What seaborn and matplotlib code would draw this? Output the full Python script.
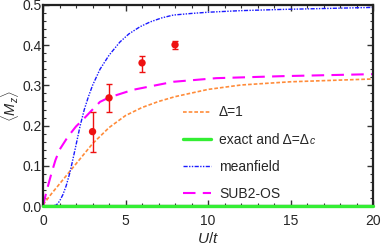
import numpy as np
import pandas as pd
import matplotlib
matplotlib.use("Agg")
import matplotlib.pyplot as plt
import seaborn as sns
from matplotlib.ticker import MultipleLocator

sns.set_theme(style="ticks")
plt.rcParams['font.family'] = ['Liberation Sans', 'DejaVu Sans']
plt.rcParams['mathtext.fontset'] = 'custom'
plt.rcParams['mathtext.rm'] = 'Liberation Sans:weight=normal'
plt.rcParams['mathtext.it'] = 'Liberation Sans:italic:weight=normal'

# Delta = 1 curve
d1_x = [0, 0.5, 1, 1.5, 2, 3, 4, 5, 6, 7, 8, 10, 12, 15, 20]
d1_y = [0.003, 0.03, 0.055, 0.08, 0.105, 0.155, 0.195, 0.225, 0.245, 0.26, 0.272, 0.29, 0.301, 0.309, 0.316]
# exact and Delta = Delta_c
ex_x = [0, 20]
ex_y = [0.0, 0.0]
# meanfield
mf_x = [0, 0.5, 0.8, 1.0, 1.2, 1.4, 1.64, 1.84, 2.0, 2.25, 2.5, 2.75, 3.0, 3.45, 4.0, 4.66, 5.2,
        5.88, 6.5, 7.2, 7.9, 9, 10, 12, 14.5, 20]
mf_y = [0, 0, 0.002, 0.012, 0.028, 0.05, 0.085, 0.122, 0.152, 0.2, 0.24, 0.272, 0.3, 0.34, 0.375,
        0.408, 0.428, 0.446, 0.458, 0.468, 0.475, 0.479, 0.482, 0.486, 0.489, 0.494]
# SUB2-OS
sub_x = [0, 0.2, 0.5, 0.75, 1.0, 1.5, 2.0, 2.4, 3.0, 3.45, 4.0, 5.45, 7.9, 10.5, 14.5, 20]
sub_y = [0, 0.035, 0.08, 0.114, 0.14, 0.172, 0.198, 0.214, 0.24, 0.259, 0.27, 0.289, 0.309, 0.318, 0.323, 0.328]
# numerical points with error bars
pt_x = [3, 4, 6, 8]
pt_y = [0.185, 0.269, 0.356, 0.401]
pt_lo = [0.134, 0.235, 0.334, 0.391]
pt_hi = [0.234, 0.304, 0.372, 0.411]

labels = ['Δ=1', 'exact and Δ=Δ', 'meanfield', 'SUB2-OS']
exact_sub = 'c'

fig = plt.figure(figsize=(3.81, 2.5), dpi=100)
ax = fig.add_axes([0.113, 0.176, 0.866, 0.804])

sns.lineplot(x=d1_x, y=d1_y, ax=ax, color='#ff8c3a', lw=1.2, label=labels[0],
             linestyle=(0, (2.2, 1.2)))
sns.lineplot(x=ex_x, y=ex_y, ax=ax, color='#33ee33', lw=2.4, label=labels[1],
             clip_on=False, zorder=3)
sns.lineplot(x=mf_x, y=mf_y, ax=ax, color='#1a1aff', lw=1.0, label=labels[2],
             linestyle=(0, (3, 1, 1, 1, 1, 1)))
sns.lineplot(x=sub_x, y=sub_y, ax=ax, color='#ff00ff', lw=1.5, label=labels[3],
             linestyle=(0, (6, 3.5)))

yerr = np.array([[y - l for y, l in zip(pt_y, pt_lo)], [h - y for y, h in zip(pt_y, pt_hi)]])
ax.errorbar(pt_x, pt_y, yerr=yerr, fmt='none', ecolor='#ee1111', elinewidth=1.0,
            capsize=2.5, capthick=1.0, zorder=4)
sns.scatterplot(x=pt_x, y=pt_y, ax=ax, color='#ee1111', s=28, edgecolor='none', zorder=5)

ax.set_xlim(0, 20)
ax.set_ylim(0, 0.5)
ax.xaxis.set_major_locator(MultipleLocator(5))
ax.xaxis.set_minor_locator(MultipleLocator(1))
ax.yaxis.set_major_locator(MultipleLocator(0.1))
ax.yaxis.set_minor_locator(MultipleLocator(0.02))
ax.yaxis.set_major_formatter(matplotlib.ticker.FormatStrFormatter('%.1f'))
ax.tick_params(which='both', direction='in', top=True, right=True, labelsize=10, color='#333333')
ax.tick_params(which='major', length=4, width=1.0)
ax.tick_params(which='minor', length=2, width=0.8)
ax.tick_params(axis='x', which='major', pad=6)
ax.tick_params(axis='y', which='major', pad=1)
for s in ax.spines.values():
    s.set_linewidth(1.6)
    s.set_color('#222222')

ax.set_xlabel('$U/t$', fontsize=11, labelpad=2)
ax.set_ylabel(r'$\langle M_z \rangle$', fontsize=10.5)
ax.yaxis.set_label_coords(-0.068, 0.5)

leg = ax.legend(loc='upper left', bbox_to_anchor=(0.424, 0.50), frameon=False, fontsize=10,
                handlelength=2.0, handletextpad=0.6, labelspacing=0.95, borderpad=0, borderaxespad=0)

# italic subscript "c" after the "exact and Δ=Δ" legend entry
fig.canvas.draw()
r = fig.canvas.get_renderer()
bb = leg.get_texts()[1].get_window_extent(r)
inv = fig.transFigure.inverted()
px, py = inv.transform((bb.x1 + 0.5, bb.y0 + 1.0))
fig.text(px, py, exact_sub, fontsize=7.5, fontstyle='italic', ha='left', va='bottom')

fig.savefig('out.png', dpi=100)
